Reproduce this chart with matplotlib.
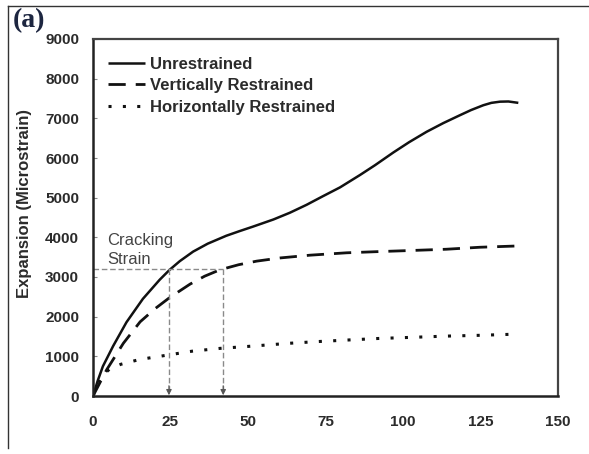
import matplotlib
matplotlib.use("Agg")
import matplotlib.pyplot as plt
from matplotlib.lines import Line2D

# ---- data ----
t_unres = [0, 1.5, 3.2, 6.5, 10.8, 16.1, 21.5, 24.7, 28, 32.3, 37, 43, 47.4, 51.6,
           58.2, 63.5, 68.9, 74, 79.7, 86.1, 91, 96.9, 102, 107.6, 113, 118.4, 122,
           125.9, 128.5, 131.3, 134, 137.2]
v_unres = [0, 380, 750, 1260, 1860, 2450, 2930, 3180, 3400, 3640, 3840, 4040, 4160, 4270,
           4450, 4620, 4820, 5030, 5260, 5570, 5820, 6140, 6400, 6660, 6880, 7080, 7210,
           7330, 7390, 7420, 7425, 7390]

t_vert = [0, 2.2, 4.4, 9.8, 15.2, 20, 24.7, 31.3, 36, 40.9, 47, 52.8, 60.3, 70,
          81.8, 92, 103.3, 114, 124.8, 136]
v_vert = [0, 330, 660, 1330, 1870, 2200, 2480, 2820, 3020, 3180, 3310, 3400, 3480, 3550,
          3610, 3640, 3670, 3700, 3750, 3780]

t_horiz = [0, 1.5, 3, 5.4, 9, 15, 24.7, 32, 40.9, 50, 63.5, 72, 81.8, 92,
           103.3, 114, 124.8, 136.7]
v_horiz = [0, 300, 520, 680, 800, 920, 1040, 1130, 1200, 1250, 1330, 1370, 1410, 1450,
           1480, 1510, 1530, 1560]

crack_strain = 3200
crack_times = [24.5, 42]

series_labels = ["Unrestrained", "Vertically Restrained", "Horizontally Restrained"]
x_ticks = [0, 25, 50, 75, 100, 125, 150]
y_ticks = [0, 1000, 2000, 3000, 4000, 5000, 6000, 7000, 8000, 9000]

# ---- figure ----
W, H = 589, 454
fig = plt.figure(figsize=(W / 100, H / 100), dpi=100)
ax = fig.add_axes([93 / W, 1 - 396 / H, 465 / W, 357 / H])

txt = "#2b2b2b"
bold = dict(family=["Liberation Sans", "DejaVu Sans"], weight="bold")

ax.plot(t_unres, v_unres, color="#111111", lw=1.8, solid_capstyle="butt",
        solid_joinstyle="round", label=series_labels[0])
ax.plot(t_vert, v_vert, color="#111111", lw=2.0, dashes=(6.2, 3.6),
        label=series_labels[1])
ax.plot(t_horiz, v_horiz, color="#111111", lw=2.2, dashes=(1.0, 3.7),
        label=series_labels[2])

# cracking strain guides
gray = "#8a8a8a"
ax.plot([0, crack_times[1]], [crack_strain, crack_strain], color=gray, lw=1.0,
        dashes=(4, 2))
for ct in crack_times:
    ax.plot([ct, ct], [crack_strain, 150], color=gray, lw=1.0, dashes=(4, 2))
    ax.annotate("", xy=(ct, 20), xytext=(ct, 260),
                arrowprops=dict(arrowstyle="-|>", color="#555555", lw=0.8,
                                mutation_scale=8, shrinkA=0, shrinkB=0))

ax.text(4.5, 4110, "Cracking\nStrain", fontsize=12, color="#444444",
        family=["Liberation Sans", "DejaVu Sans"], va="top", ha="left",
        linespacing=1.35)

ax.set_xlim(0, 150)
ax.set_ylim(0, 9000)
ax.set_xticks(x_ticks)
ax.set_yticks(y_ticks)
ax.set_xticklabels([str(v) for v in x_ticks], fontsize=11, color=txt, **bold)
ax.set_yticklabels([str(v) for v in y_ticks], fontsize=11, color=txt, **bold)
ax.tick_params(axis="x", direction="in", length=0, pad=14)
ax.tick_params(axis="y", direction="in", length=3, width=0.8, color="#888888", pad=10)

for side in ["left", "bottom"]:
    ax.spines[side].set_linewidth(1.8)
    ax.spines[side].set_color("#222222")
for side in ["top", "right"]:
    ax.spines[side].set_linewidth(1.6)
    ax.spines[side].set_color("#444444")

ax.set_ylabel("Expansion (Microstrain)", fontsize=12, color=txt, **bold)
ax.yaxis.set_label_coords(-0.131, 0.54)

leg = ax.legend(loc="upper left", bbox_to_anchor=(0.032, 0.95), frameon=False,
                borderpad=0, borderaxespad=0, handlelength=2.2, handletextpad=0.3,
                labelspacing=0.38, prop=dict(family="Liberation Sans", weight="bold", size=12))
for t in leg.get_texts():
    t.set_color(txt)

# outer frame lines
fig.add_artist(Line2D([8 / W, 1], [1 - 6 / H, 1 - 6 / H], transform=fig.transFigure,
                      color="#333333", lw=1.0))
fig.add_artist(Line2D([8 / W, 8 / W], [1 - 6 / H, 1 - 448 / H], transform=fig.transFigure,
                      color="#333333", lw=1.0))

fig.text(13 / W, 1 - 8 / H, "(a)", fontsize=20, weight="bold", color="#1d2640",
         family=["Liberation Serif", "DejaVu Serif"], va="top", ha="left")

fig.savefig("out.png", dpi=100)
